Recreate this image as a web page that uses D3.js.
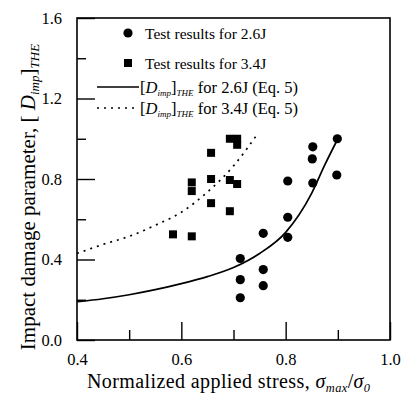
<!DOCTYPE html>
<html>
<head>
<meta charset="utf-8">
<script src="https://cdn.jsdelivr.net/npm/d3@7"></script>
<style>
  body { margin: 0; background: #fff; }
  text { font-family: "Liberation Serif", "Times New Roman", serif; fill: #000; }
</style>
</head>
<body>
<svg id="chart" width="404" height="400"></svg>
<script>
// test results, 2.6J (circles)
const x26 = [0.899, 0.898, 0.852, 0.851, 0.852, 0.804, 0.804, 0.804, 0.757, 0.757, 0.757, 0.713, 0.713, 0.713];
const y26 = [1.00, 0.82, 0.96, 0.90, 0.78, 0.79, 0.61, 0.51, 0.53, 0.35, 0.27, 0.405, 0.30, 0.21];

// test results, 3.4J (squares)
const x34 = [0.584, 0.620, 0.620, 0.620, 0.657, 0.657, 0.657, 0.693, 0.693, 0.693, 0.707, 0.707, 0.707];
const y34 = [0.525, 0.515, 0.74, 0.783, 0.68, 0.80, 0.93, 0.64, 0.795, 1.00, 1.00, 0.97, 0.775];

// Eq. 5 curves
const solidX = [0.40, 0.45, 0.50, 0.55, 0.60, 0.65, 0.70, 0.75, 0.80, 0.85, 0.875, 0.90];
const solidY = [0.19, 0.205, 0.225, 0.25, 0.28, 0.315, 0.36, 0.43, 0.535, 0.73, 0.87, 1.00];
const dotX = [0.40, 0.45, 0.50, 0.55, 0.60, 0.65, 0.70, 0.745];
const dotY = [0.43, 0.475, 0.515, 0.57, 0.635, 0.735, 0.865, 1.02];

const xMajor = [0.4, 0.6, 0.8, 1.0];
const xMinor = [0.5, 0.7, 0.9];
const yMajor = [0.0, 0.4, 0.8, 1.2, 1.6];
const yMinor = [0.2, 0.6, 1.0, 1.4];

const legendText = ["Test results for 2.6J", "Test results for 3.4J", "for 2.6J (Eq. 5)", "for 3.4J (Eq. 5)"];

const svg = d3.select("#chart");
const m = {left: 77, right: 390, top: 18, bottom: 340};

const x = d3.scaleLinear().domain([0.4, 1.0]).range([m.left, m.right]);
const y = d3.scaleLinear().domain([0, 1.6]).range([m.bottom, m.top]);

// frame
svg.append("rect")
  .attr("x", m.left).attr("y", m.top)
  .attr("width", m.right - m.left).attr("height", m.bottom - m.top)
  .attr("fill", "none").attr("stroke", "#000").attr("stroke-width", 1.6);

// axes, ticks pointing inward
const fmt = d3.format(".1f");
svg.append("g")
  .attr("transform", `translate(0,${m.bottom})`)
  .call(d3.axisBottom(x).tickValues(xMajor).tickFormat(fmt).tickSizeInner(-18).tickSizeOuter(0).tickPadding(13.5))
  .call(g => g.select(".domain").remove());
svg.append("g")
  .attr("transform", `translate(0,${m.bottom})`)
  .call(d3.axisBottom(x).tickValues(xMinor).tickFormat("").tickSizeInner(-10).tickSizeOuter(0))
  .call(g => g.select(".domain").remove());
svg.append("g")
  .attr("transform", `translate(${m.left},0)`)
  .call(d3.axisLeft(y).tickValues(yMajor).tickFormat(fmt).tickSizeInner(-18).tickSizeOuter(0).tickPadding(15))
  .call(g => g.select(".domain").remove());
svg.append("g")
  .attr("transform", `translate(${m.left},0)`)
  .call(d3.axisLeft(y).tickValues(yMinor).tickFormat("").tickSizeInner(-9).tickSizeOuter(0))
  .call(g => g.select(".domain").remove());

svg.selectAll(".tick line").attr("stroke", "#000").attr("stroke-width", 1.4);
svg.selectAll(".tick text").style("font-size", "16.5px").style("font-family", "Liberation Serif, serif");

// rich text helper: parts = [text, italic?, sub?]
function rich(sel, parts, subSize) {
  parts.forEach(p => {
    const ts = sel.append("tspan").text(p[0]);
    if (p[1]) ts.style("font-style", "italic");
    if (p[2]) ts.attr("baseline-shift", "-30%").style("font-size", subSize || "62%");
  });
  return sel;
}

// axis titles
rich(svg.append("text").attr("x", 87).attr("y", 388).style("font-size", "20px").style("letter-spacing", "0.4px"),
  [["Normalized applied stress, "], ["σ", true], ["max", true, true], ["/"], ["σ", true], ["0", true, true]]);

rich(svg.append("text").attr("transform", "translate(35,197) rotate(-90)").attr("text-anchor", "middle").style("font-size", "21px"),
  [["Impact damage parameter, [ "], ["D", true], ["imp", true, true], ["]"], ["THE", true, true]]);

// curves
const line = d3.line().x(d => x(d[0])).y(d => y(d[1])).curve(d3.curveMonotoneX);
svg.append("path").datum(d3.zip(solidX, solidY))
  .attr("d", line).attr("fill", "none").attr("stroke", "#000").attr("stroke-width", 1.7);
svg.append("path").datum(d3.zip(dotX, dotY))
  .attr("d", line).attr("fill", "none").attr("stroke", "#000").attr("stroke-width", 1.7)
  .attr("stroke-dasharray", "2,5");

// points
svg.append("g").selectAll("circle").data(d3.zip(x26, y26)).join("circle")
  .attr("cx", d => x(d[0])).attr("cy", d => y(d[1])).attr("r", 4.6).attr("fill", "#000");
svg.append("g").selectAll("rect").data(d3.zip(x34, y34)).join("rect")
  .attr("x", d => x(d[0]) - 4).attr("y", d => y(d[1]) - 4)
  .attr("width", 8).attr("height", 8).attr("fill", "#000");

// legend
const lg = svg.append("g");
lg.append("circle").attr("cx", 128).attr("cy", 33).attr("r", 4.6);
lg.append("rect").attr("x", 124).attr("y", 59).attr("width", 8).attr("height", 8);
lg.append("line").attr("x1", 97).attr("x2", 139).attr("y1", 87).attr("y2", 87)
  .attr("stroke", "#000").attr("stroke-width", 1.7);
lg.append("line").attr("x1", 97).attr("x2", 139).attr("y1", 108).attr("y2", 108)
  .attr("stroke", "#000").attr("stroke-width", 1.7).attr("stroke-dasharray", "2,5");
lg.append("text").attr("x", 145).attr("y", 38.5).style("font-size", "15.5px").text(legendText[0]);
lg.append("text").attr("x", 145).attr("y", 68.5).style("font-size", "15.5px").text(legendText[1]);
[legendText[2], legendText[3]].forEach((t, i) => {
  rich(lg.append("text").attr("x", 140).attr("y", 93 + i * 21).style("font-size", "16.5px"),
    [["["], ["D", true], ["imp", true, true], ["]"], ["THE", true, true], [" " + t]], "55%");
});
</script>
</body>
</html>
